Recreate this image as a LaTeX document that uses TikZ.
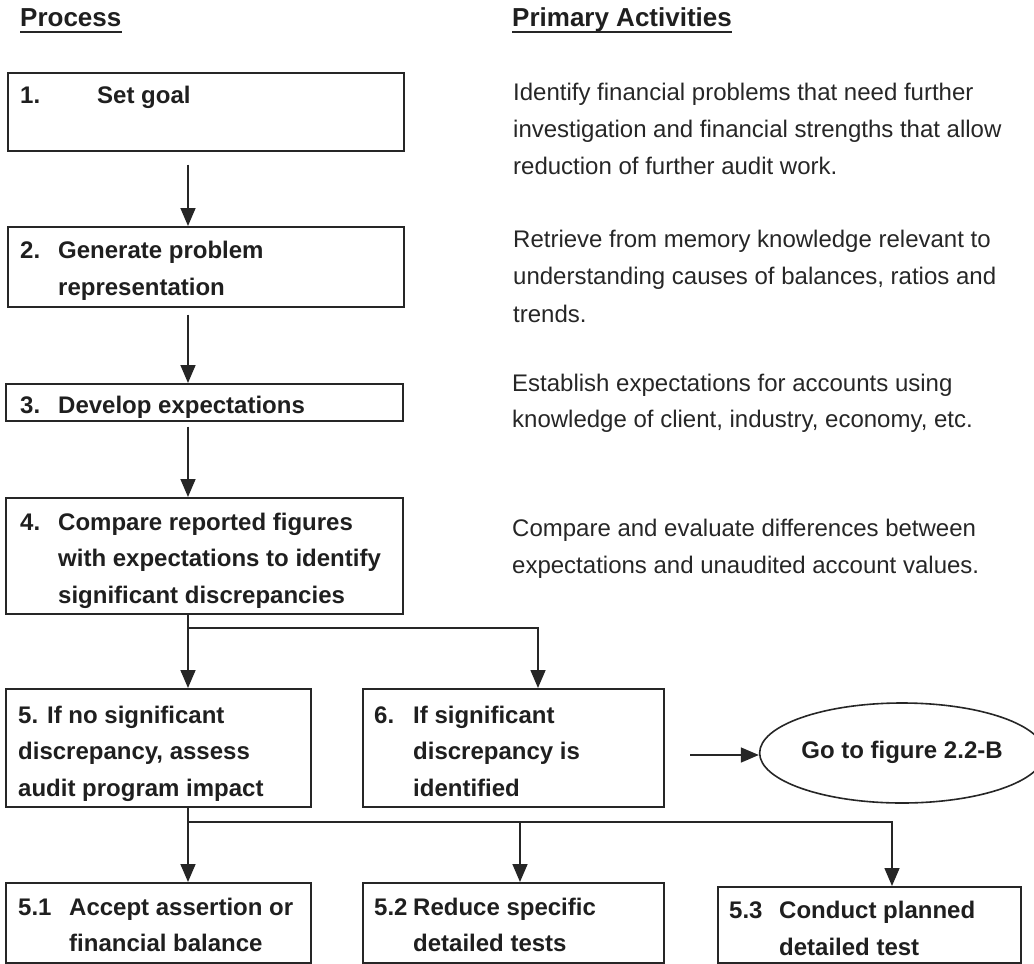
\documentclass[tikz,border=0pt]{standalone}
\usepackage{fontspec}
\setmainfont{Liberation Sans}
\usetikzlibrary{arrows.meta,shapes.geometric,calc}
\begin{document}
\begin{tikzpicture}[x=1pt,y=-1pt,
  ink/.style={draw=black!85, line width=1.6pt},
  box/.style={ink, rectangle, anchor=north west, inner sep=0pt},
  lbl/.style={anchor=base west, inner sep=0pt, text=black!88,
              font=\fontsize{24}{30}\selectfont\bfseries},
  act/.style={anchor=base west, inner sep=0pt, text=black!85,
              font=\fontsize{24}{30}\selectfont},
  head/.style={anchor=base west, inner sep=0pt, text=black!88,
              font=\fontsize{26}{30}\selectfont\bfseries},
  flow/.style={ink, -{Triangle[width=15pt,length=18pt]}},
  wire/.style={ink}]
\useasboundingbox (0,0) rectangle (1034,964);

% column headings
\node[head] (hp) at (20,26) {Process};
\node[head] (ha) at (512,26) {Primary Activities};
\draw[ink, line width=1.4pt] ([yshift=-6pt]hp.base west) -- ([yshift=-6pt]hp.base east);
\draw[ink, line width=1.4pt] ([yshift=-6pt]ha.base west) -- ([yshift=-6pt]ha.base east);

% process boxes
\node[box, minimum width=396pt, minimum height=78pt]  (b1)  at (7,72)   {};
\node[box, minimum width=396pt, minimum height=80pt]  (b2)  at (7,226)  {};
\node[box, minimum width=397pt, minimum height=37pt]  (b3)  at (5,383)  {};
\node[box, minimum width=397pt, minimum height=116pt] (b4)  at (5,497)  {};
\node[box, minimum width=305pt, minimum height=118pt] (b5)  at (5,688)  {};
\node[box, minimum width=301pt, minimum height=118pt] (b6)  at (362,688) {};
\node[box, minimum width=305pt, minimum height=80pt]  (b51) at (5,882)  {};
\node[box, minimum width=301pt, minimum height=80pt]  (b52) at (362,882) {};
\node[box, minimum width=303pt, minimum height=76pt]  (b53) at (717,886) {};
\node[ink, ellipse, minimum width=256pt, minimum height=100pt, inner sep=0pt,
      font=\fontsize{24}{30}\selectfont\bfseries, text=black!88] (go) at (902,753)
      {\raisebox{6pt}{Go to figure 2.2-B}};

% box texts
\node[lbl] (n1) at (20,103) {1.};
\node[lbl] (t1) at (97,103) {Set goal};

\node[lbl] (n2) at (20,258) {2.};
\node[lbl] (t2a) at (58,258) {Generate problem};
\node[lbl] (t2b) at (58,295) {representation};

\node[lbl] (n3) at (20,413) {3.};
\node[lbl] (t3) at (58,413) {Develop expectations};

\node[lbl] (n4) at (20,530) {4.};
\node[lbl] (t4a) at (58,530) {Compare reported figures};
\node[lbl] (t4b) at (58,566) {with expectations to identify};
\node[lbl] (t4c) at (58,603) {significant discrepancies};

\node[lbl] (t5a) at (18,723) {5. If no significant};
\node[lbl] (t5b) at (18,759) {discrepancy, assess};
\node[lbl] (t5c) at (18,796) {audit program impact};

\node[lbl] (n6) at (374,723) {6.};
\node[lbl] (t6a) at (413,723) {If significant};
\node[lbl] (t6b) at (413,759) {discrepancy is};
\node[lbl] (t6c) at (413,796) {identified};

\node[lbl] (n51) at (18,915) {5.1};
\node[lbl] (t51a) at (69,915) {Accept assertion or};
\node[lbl] (t51b) at (69,951) {financial balance};

\node[lbl] (n52) at (374,915) {5.2};
\node[lbl] (t52a) at (413,915) {Reduce specific};
\node[lbl] (t52b) at (413,951) {detailed tests};

\node[lbl] (n53) at (729,918) {5.3};
\node[lbl] (t53a) at (779,918) {Conduct planned};
\node[lbl] (t53b) at (779,955) {detailed test};

% activity descriptions
\node[act] (a1a) at (513,100) {Identify financial problems that need further};
\node[act] (a1b) at (513,137) {investigation and financial strengths that allow};
\node[act] (a1c) at (513,174) {reduction of further audit work.};
\node[act] (a2a) at (513,247) {Retrieve from memory knowledge relevant to};
\node[act] (a2b) at (513,284) {understanding causes of balances, ratios and};
\node[act] (a2c) at (513,322) {trends.};
\node[act] (a3a) at (512,391) {Establish expectations for accounts using};
\node[act] (a3b) at (512,427) {knowledge of client, industry, economy, etc.};
\node[act] (a4a) at (512,536) {Compare and evaluate differences between};
\node[act] (a4b) at (512,573) {expectations and unaudited account values.};

% connector columns and branch points
\coordinate (c1)  at (188,0);
\coordinate (c6)  at (538,0);
\coordinate (c52) at (520,0);
\coordinate (c53) at (892,0);
\coordinate (s1)  at (188,628);
\coordinate (s2)  at (188,822);
\coordinate (ga)  at (690,755);

% connectors
\draw[flow] ([yshift=-13pt]b1.south -| c1) -- (b2.north -| c1);
\draw[flow] ([yshift=-7pt]b2.south -| c1) -- (b3.north -| c1);
\draw[flow] ([yshift=-5pt]b3.south -| c1) -- (b4.north -| c1);
\draw[flow] (b4.south -| c1) -- (b5.north -| c1);
\draw[flow] (s1) -| (b6.north -| c6);
\draw[flow] (b5.south -| c1) -- (b51.north -| c1);
\draw[flow] (s2) -| (b52.north -| c52);
\draw[flow] (s2) -| (b53.north -| c53);
\draw[flow] (ga) -- (ga -| go.west);
\end{tikzpicture}
\end{document}
